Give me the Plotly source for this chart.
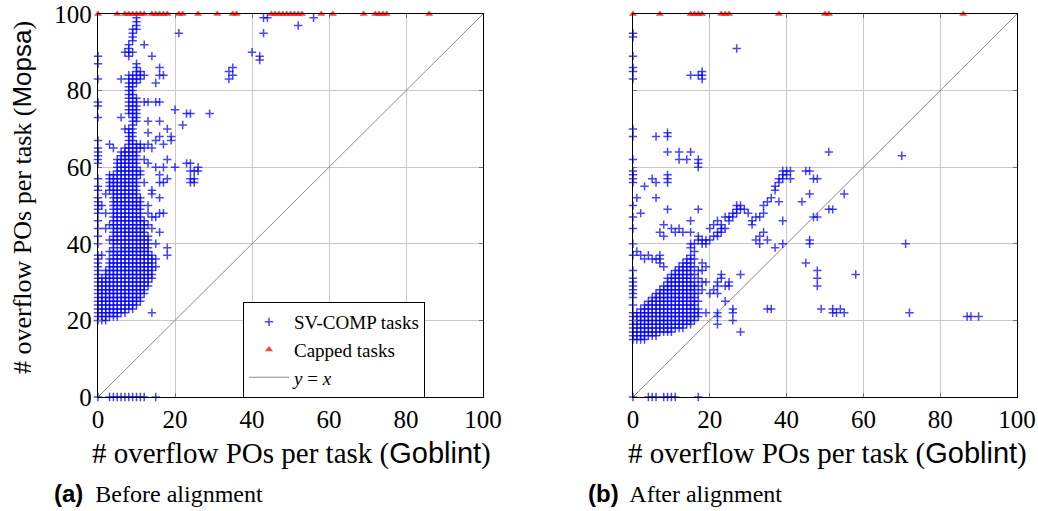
import plotly.graph_objects as go

# ---------------- data ----------------
# Panel (a) before alignment: Goblint count (x) -> list of Mopsa counts (y)
before_columns = {
    0: [0, 20, 21, 22, 23, 24, 25, 26, 27, 28, 29, 30, 31, 32, 33, 34, 35, 36, 37, 40, 42, 44, 46, 48, 49, 50,
        51, 52, 54, 55, 57, 61, 62, 63, 64, 65, 67, 73, 76, 77, 83, 87, 89],
    1: [20, 21, 22, 23, 24, 25, 26, 27, 28, 29, 30, 31, 37, 50],
    2: [20, 21, 22, 23, 24, 25, 26, 27, 28, 29, 30, 31, 32, 33, 44, 48, 53],
    3: [0, 21, 22, 23, 24, 25, 26, 27, 28, 29, 30, 31, 32, 33, 34, 35, 36, 38, 41, 45, 54, 55, 56, 57, 58, 66],
    4: [0, 21, 22, 23, 24, 25, 26, 27, 28, 29, 30, 31, 32, 33, 34, 35, 36, 37, 38, 39, 40, 41, 42, 43, 44, 45,
        46, 47, 48, 49, 50, 51, 52, 53, 54, 55, 56, 57, 58, 65],
    5: [0, 21, 22, 23, 24, 25, 26, 27, 28, 29, 30, 31, 32, 33, 34, 35, 36, 37, 38, 40, 41, 42, 43, 44, 45, 46,
        47, 48, 49, 50, 51, 52, 53, 54, 55, 56, 57, 58, 59, 60, 61, 62],
    6: [0, 22, 23, 24, 25, 26, 27, 28, 29, 30, 31, 32, 33, 34, 35, 36, 37, 38, 39, 40, 41, 42, 43, 44, 45, 46,
        47, 48, 49, 50, 51, 52, 53, 54, 55, 56, 57, 58, 59, 60, 61, 62, 63, 64, 73, 83],
    7: [0, 22, 23, 24, 25, 26, 27, 28, 29, 30, 31, 32, 33, 34, 35, 36, 37, 38, 39, 40, 41, 42, 43, 44, 45, 46,
        47, 48, 49, 50, 51, 52, 53, 54, 55, 56, 57, 58, 59, 60, 61, 62, 63, 64, 65, 70, 90],
    8: [0, 23, 24, 25, 26, 27, 28, 29, 30, 31, 32, 33, 34, 35, 36, 37, 38, 39, 40, 41, 42, 43, 44, 45, 46, 47,
        48, 49, 50, 51, 52, 53, 54, 55, 56, 57, 58, 59, 60, 61, 62, 63, 64, 65, 66, 67, 68, 69, 70, 74, 75, 76,
        77, 78, 79, 80, 81, 82, 83, 84, 89, 90, 91, 92],
    9: [0, 23, 24, 25, 26, 27, 28, 29, 30, 31, 32, 33, 34, 35, 36, 37, 38, 39, 40, 41, 42, 43, 44, 45, 46, 47,
        48, 49, 50, 51, 52, 53, 54, 55, 56, 57, 58, 59, 60, 61, 62, 63, 64, 65, 66, 67, 68, 69, 70, 71, 72, 73,
        74, 75, 76, 77, 78, 79, 80, 81, 82, 83, 84, 90, 93, 94, 95, 96],
    10: [0, 24, 25, 26, 27, 28, 29, 30, 31, 32, 33, 34, 35, 36, 37, 38, 39, 40, 41, 42, 43, 44, 45, 46, 47, 48,
         49, 50, 51, 52, 53, 54, 55, 56, 57, 58, 59, 60, 61, 62, 63, 64, 65, 66, 72, 73, 74, 75, 76, 77, 78,
         82, 83, 84, 85, 86, 87, 96, 97, 98, 99],
    11: [0, 25, 26, 27, 28, 29, 30, 31, 32, 33, 34, 35, 36, 37, 38, 39, 40, 41, 42, 43, 44, 45, 46, 47, 48, 49,
         50, 51, 52, 58, 59, 65, 66, 83, 84, 85],
    12: [0, 27, 28, 29, 30, 31, 32, 33, 34, 35, 36, 37, 38, 39, 40, 41, 42, 43, 44, 45, 46, 56, 62, 65, 77, 84, 92],
    13: [29, 30, 31, 32, 33, 34, 35, 36, 37, 38, 39, 40, 41, 42, 45, 48, 50, 61, 66, 69, 72, 77],
    14: [22, 31, 32, 33, 34, 35, 36, 37, 44, 47, 53, 54, 65, 89],
    15: [0, 34, 36, 40, 47, 60, 67, 77, 82],
    16: [43, 48, 52, 56, 58, 68, 72, 77, 84, 86],
    17: [48, 56, 60, 66, 84],
    18: [37, 39, 57, 62, 70],
    19: [67, 68],
    20: [60, 75],
    21: [95],
    22: [71],
    23: [61, 74],
    24: [56, 57, 59, 61, 74],
    25: [56, 57, 59],
    26: [59, 60],
    29: [74],
    34: [83, 85],
    35: [84, 86],
    40: [90],
    42: [88, 89],
    43: [95, 99],
    44: [99],
    52: [97],
    56: [99],
}

# Panel (b) after alignment
after_columns = {
    0: [0, 15, 16, 17, 18, 19, 20, 21, 22, 24, 26, 27, 28, 29, 30, 31, 33, 37, 40, 44, 47, 50, 56, 57, 58, 59,
        62, 68, 70, 83, 85, 86, 89, 94, 95],
    1: [15, 16, 17, 18, 19, 20, 21, 22, 38, 52],
    2: [15, 16, 17, 18, 19, 20, 21, 22, 23, 37, 48],
    3: [15, 16, 17, 18, 19, 20, 21, 22, 23, 24, 36, 55],
    4: [0, 16, 17, 18, 19, 20, 21, 22, 23, 24, 25, 37],
    5: [0, 16, 17, 18, 19, 20, 21, 22, 23, 24, 25, 26, 36, 57],
    6: [0, 16, 17, 18, 19, 20, 21, 22, 23, 24, 25, 26, 27, 36, 52, 56, 68],
    7: [17, 18, 19, 20, 21, 22, 23, 24, 25, 26, 27, 28, 35, 36, 37, 43],
    8: [0, 17, 18, 19, 20, 21, 22, 23, 24, 25, 26, 27, 28, 29, 34, 42, 45],
    9: [0, 17, 18, 19, 20, 21, 22, 23, 24, 25, 26, 27, 28, 29, 30, 31, 49, 56, 57, 58, 64, 68, 69],
    10: [0, 17, 18, 19, 20, 21, 22, 23, 24, 25, 26, 27, 28, 29, 30, 31, 32, 44],
    11: [0, 18, 19, 20, 21, 22, 23, 24, 25, 26, 27, 28, 29, 30, 31, 32, 33, 43],
    12: [18, 19, 20, 21, 22, 23, 24, 25, 26, 27, 28, 29, 30, 31, 32, 33, 34, 44, 62, 64],
    13: [18, 19, 20, 21, 22, 23, 24, 25, 26, 27, 28, 29, 30, 31, 32, 33, 34, 35, 43],
    14: [19, 20, 21, 22, 23, 24, 25, 26, 27, 28, 29, 30, 31, 32, 33, 34, 35, 36, 62],
    15: [19, 20, 21, 22, 23, 24, 25, 26, 27, 28, 29, 30, 31, 32, 33, 34, 35, 36, 37, 39, 40, 43, 46, 64, 84],
    16: [20, 21, 22, 23, 24, 25, 26, 27, 28, 29, 30, 32, 34, 36, 38, 40],
    17: [0, 21, 22, 23, 25, 27, 29, 31, 33, 41, 42, 49, 60, 61, 62, 84],
    18: [28, 30, 33, 35, 40, 41, 83, 84, 85],
    19: [22, 30, 34, 40, 41],
    20: [27, 41, 44],
    21: [28, 42, 45],
    22: [19, 21, 22, 27, 29, 30, 42, 43, 46],
    23: [31, 32, 43, 44, 45],
    24: [25, 29, 44, 47],
    25: [29, 30, 46, 47],
    26: [20, 22, 23, 47, 48],
    27: [48, 49, 50, 91],
    28: [17, 32, 49, 50],
    29: [49],
    30: [48],
    31: [45, 46],
    32: [41, 47],
    33: [40, 42, 47],
    34: [43, 48, 50],
    35: [23, 41, 51],
    36: [23, 52],
    37: [39, 54, 55],
    38: [51, 56, 57],
    39: [40, 46, 57, 58, 59],
    40: [58, 59],
    41: [57, 59],
    44: [51],
    45: [35, 59],
    46: [40, 41, 53, 59],
    47: [47, 57],
    48: [29, 31, 33, 47, 57],
    49: [23],
    51: [49, 64],
    52: [22, 23, 49],
    53: [22],
    54: [23],
    55: [22, 53],
    58: [32],
    70: [63],
    71: [40],
    72: [22],
    87: [21],
    88: [21],
    90: [21],
}

# Capped tasks (Mopsa capped at 100): Goblint counts
capped_before_x = [0, 5, 7, 8, 9, 10, 11, 12, 14, 15, 16, 17, 18, 21, 22, 26, 31, 35, 36, 45, 46, 47, 48,
                   49, 50, 51, 52, 53, 58, 61, 69, 72, 73, 74, 75, 86]
capped_after_x = [0, 7, 15, 16, 17, 18, 23, 24, 25, 38, 50, 51, 86]
cap_value = 100

diag_vals = [0, 100]
tick_vals = [0, 20, 40, 60, 80, 100]


def flatten(cols):
    xs, ys = [], []
    for gx, yl in cols.items():
        for gy in yl:
            xs.append(gx)
            ys.append(gy)
    return xs, ys


bx, by = flatten(before_columns)
ax_, ay_ = flatten(after_columns)

SERIF = "Liberation Serif"
SANS = "Liberation Sans"
BLUE = "rgb(0,0,255)"
RED = "rgb(255,0,0)"

fig = go.Figure()

for i, (xa, ya) in enumerate([("x", "y"), ("x2", "y2")]):
    fig.add_trace(go.Scatter(
        x=diag_vals, y=diag_vals, mode="lines", xaxis=xa, yaxis=ya,
        line=dict(color="#8a8a8a", width=1),
        name="<i>y</i> = <i>x</i>", legendrank=3, showlegend=(i == 0), hoverinfo="skip"))

common_plus = dict(mode="markers", cliponaxis=False,
                   marker=dict(symbol="cross-thin", size=6, opacity=0.72,
                               line=dict(color=BLUE, width=1.5), color=BLUE))
fig.add_trace(go.Scatter(x=bx, y=by, xaxis="x", yaxis="y", name="SV-COMP tasks",
                         legendrank=1, showlegend=True, **common_plus))
fig.add_trace(go.Scatter(x=ax_, y=ay_, xaxis="x2", yaxis="y2", name="SV-COMP tasks",
                         showlegend=False, **common_plus))

common_tri = dict(mode="markers", cliponaxis=False,
                  marker=dict(symbol="triangle-up", size=7, color=RED, opacity=0.75,
                              line=dict(width=0)))
fig.add_trace(go.Scatter(x=capped_before_x, y=[cap_value] * len(capped_before_x), xaxis="x", yaxis="y",
                         name="Capped tasks", legendrank=2, showlegend=True, **common_tri))
fig.add_trace(go.Scatter(x=capped_after_x, y=[cap_value] * len(capped_after_x), xaxis="x2", yaxis="y2",
                         name="Capped tasks", showlegend=False, **common_tri))

axis_common = dict(range=[0, 100], tickvals=tick_vals, ticktext=[str(v) for v in tick_vals],
                   showgrid=True, gridcolor="#c8c8c8", gridwidth=1, zeroline=False,
                   showline=True, linecolor="black", linewidth=1.3, mirror="ticks",
                   ticks="inside", ticklen=4, tickcolor="#707070", tickwidth=1.3,
                   tickfont=dict(family=SERIF, size=25, color="black"), fixedrange=True,
                   automargin=False)

W, H = 1038, 511
xd1 = [98 / W, 483 / W]
xd2 = [633 / W, 1017 / W]
yd = [(H - 397) / H, (H - 14) / H]

fig.update_layout(
    width=W, height=H,
    margin=dict(l=0, r=0, t=0, b=0, pad=0, autoexpand=False),
    paper_bgcolor="white", plot_bgcolor="white",
    xaxis=dict(domain=xd1, anchor="y", **axis_common),
    yaxis=dict(domain=yd, anchor="x", **axis_common),
    xaxis2=dict(domain=xd2, anchor="y2", **axis_common),
    yaxis2=dict(domain=yd, anchor="x2", showticklabels=False, **axis_common),
    legend=dict(x=243 / W, y=(H - 302) / H, xanchor="left", yanchor="top",
                bordercolor="black", borderwidth=1, bgcolor="white",
                font=dict(family=SERIF, size=19, color="black"),
                tracegroupgap=0, itemwidth=40),
    showlegend=True,
)

xtitle_font = dict(family=SERIF, size=29, color="black")
ytitle_font = dict(family=SERIF, size=26, color="black")
xtitle = "# overflow POs per task (<span style='font-family:%s'>Goblint</span>)" % SANS
ytitle = "# overflow POs per task (<span style='font-family:%s'>Mopsa</span>)" % SANS
annos = [
    dict(text=xtitle, x=291 / W, y=(H - 453) / H, xref="paper", yref="paper",
         xanchor="center", yanchor="middle", showarrow=False, font=xtitle_font),
    dict(text=xtitle, x=827 / W, y=(H - 453) / H, xref="paper", yref="paper",
         xanchor="center", yanchor="middle", showarrow=False, font=xtitle_font),
    dict(text=ytitle, x=22 / W, y=(H - 198) / H, xref="paper", yref="paper",
         xanchor="center", yanchor="middle", showarrow=False, textangle=-90, font=ytitle_font),
    dict(text="<span style='font-family:%s'><b>(a)</b></span>  Before alignment" % SANS,
         x=52 / W, y=(H - 493) / H, xref="paper", yref="paper", xanchor="left", yanchor="middle",
         showarrow=False, font=dict(family=SERIF, size=24, color="black")),
    dict(text="<span style='font-family:%s'><b>(b)</b></span>  After alignment" % SANS,
         x=586 / W, y=(H - 493) / H, xref="paper", yref="paper", xanchor="left", yanchor="middle",
         showarrow=False, font=dict(family=SERIF, size=24, color="black")),
]
fig.update_layout(annotations=annos)

fig.write_html("out.html", config=dict(displayModeBar=False),
               post_script="document.body.style.margin='0px';document.body.style.overflow='hidden';")
